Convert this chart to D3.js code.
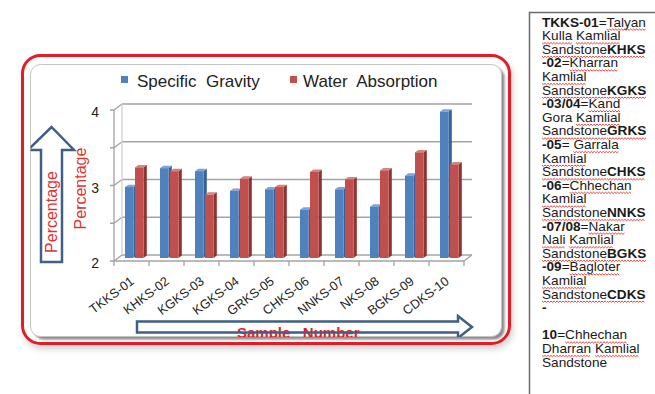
<!DOCTYPE html>
<html>
<head>
<meta charset="utf-8">
<script src="https://cdn.jsdelivr.net/npm/d3@7"></script>
<style>
  html, body { margin: 0; padding: 0; background: #fff; }
  svg { display: block; font-family: "Liberation Sans", Arial, sans-serif; }
  .pre { white-space: pre; }
</style>
</head>
<body>
<svg id="chart" width="655" height="394"></svg>
<script>
// ---- data ----
const samples = ["TKKS-01", "KHKS-02", "KGKS-03", "KGKS-04", "GRKS-05",
                 "CHKS-06", "NNKS-07", "NKS-08", "BGKS-09", "CDKS-10"];
const seriesNames = ["Specific Gravity", "Water Absorption"];
const legendLabels = ["Specific  Gravity", "Water  Absorption"];
const specificGravity = [2.94, 3.19, 3.15, 2.89, 2.91, 2.64, 2.91, 2.68, 3.09, 3.94];
const waterAbsorption = [3.20, 3.15, 2.84, 3.05, 2.94, 3.14, 3.04, 3.16, 3.40, 3.24];
const yTickValues = [2, 3, 4];
const gridValues = [2, 2.5, 3, 3.5, 4];
const yTitle = "Percentage";
const xTitle = "Sample   Number";

// key to sample codes: ^ toggles bold, ~ toggles the spell-check underline
const keyLines = [
  "^TKKS-01^=~Talyan~",
  "~Kulla~ ~Kamlial~",
  "~Sandstone^KHKS^~",
  "^-02^=~Kharran~",
  "~Kamlial~",
  "~Sandstone^KGKS^~",
  "^-03/04^=~Kand~",
  "Gora ~Kamlial~",
  "~Sandstone^GRKS^~",
  "^-05^= ~Garrala~",
  "~Kamlial~",
  "~Sandstone^CHKS^~",
  "^-06^=~Chhechan~",
  "~Kamlial~",
  "~Sandstone^NNKS^~",
  "^-07/08^=~Nakar~",
  "~Nali~ ~Kamlial~",
  "~Sandstone^BGKS^~",
  "^-09^=~Bagloter~",
  "~Kamlial~",
  "~Sandstone^CDKS^~",
  "^-^",
  "",
  "^10^=~Chhechan~",
  "~Dharran~ ~Kamlial~",
  "Sandstone"
];

const seriesValues = [specificGravity, waterAbsorption];
const colors = {
  front: ["#4f81bd", "#c0504d"],
  top:   ["#7ea3d6", "#d8817e"],
  side:  ["#36609a", "#8d3331"]
};

const svg = d3.select("#chart");
const defs = svg.append("defs");

// ---- frame ----
const shadow = defs.append("filter").attr("id", "outerShadow")
  .attr("x", "-10%").attr("y", "-10%").attr("width", "120%").attr("height", "125%");
shadow.append("feDropShadow").attr("dx", 2).attr("dy", 4).attr("stdDeviation", 3)
  .attr("flood-color", "#000").attr("flood-opacity", 0.18);

const blur = defs.append("filter").attr("id", "innerBlur");
blur.append("feGaussianBlur").attr("stdDeviation", 1.2);

const outer = { x: 22.5, y: 55.5, w: 487, h: 288, r: 18 };
const inner = { x: 30.5, y: 64.5, w: 471, h: 272, r: 10 };

svg.append("rect")
  .attr("x", outer.x).attr("y", outer.y).attr("width", outer.w).attr("height", outer.h)
  .attr("rx", outer.r)
  .attr("fill", "#fff").attr("stroke", "#e31f26").attr("stroke-width", 3)
  .attr("filter", "url(#outerShadow)");

svg.append("rect")
  .attr("x", inner.x + 3).attr("y", inner.y + 3).attr("width", inner.w).attr("height", inner.h)
  .attr("rx", inner.r).attr("fill", "#8a8a8a").attr("filter", "url(#innerBlur)");

svg.append("rect")
  .attr("x", inner.x).attr("y", inner.y).attr("width", inner.w).attr("height", inner.h)
  .attr("rx", inner.r).attr("fill", "#fff").attr("stroke", "#c4c4c4").attr("stroke-width", 1);

defs.append("clipPath").attr("id", "innerClip")
  .append("rect")
  .attr("x", inner.x).attr("y", inner.y).attr("width", inner.w).attr("height", inner.h + 0.5)
  .attr("rx", inner.r);

const g = svg.append("g").attr("clip-path", "url(#innerClip)");

// ---- scales ----
const x = d3.scaleBand().domain(samples).range([114, 464]);
const y = d3.scaleLinear().domain([2, 4]).range([261, 110]);
const xSub = d3.scaleBand().domain(seriesNames).range([7, 25.5]).paddingInner(0.15);

const wall = { dx: 8, dy: -6 };     // depth of the back wall
const shift = { dx: 4, dy: -3 };    // bars sit halfway back
const barD = { dx: 3.3, dy: -2.4 }; // thickness of each bar

const [x0, x1] = x.range();
const gridColor = "#a3a3a3";

// side wall edges and back-wall gridlines
const axisG = g.append("g").attr("fill", "none").attr("stroke", gridColor).attr("stroke-width", 1.3);
axisG.selectAll("line.grid").data(gridValues).join("line")
  .attr("x1", x0 + wall.dx).attr("x2", x1 + wall.dx)
  .attr("y1", d => y(d) + wall.dy).attr("y2", d => y(d) + wall.dy);
axisG.selectAll("line.conn").data(gridValues).join("line")
  .attr("x1", x0).attr("x2", x0 + wall.dx)
  .attr("y1", d => y(d)).attr("y2", d => y(d) + wall.dy);
axisG.selectAll("line.tick").data(gridValues).join("line")
  .attr("x1", x0 - 4).attr("x2", x0)
  .attr("y1", d => y(d)).attr("y2", d => y(d));
axisG.append("line")
  .attr("x1", x0).attr("x2", x0).attr("y1", y(4)).attr("y2", y(2));
axisG.append("line").attr("stroke", "#d0d0d0")
  .attr("x1", x0 + wall.dx).attr("x2", x0 + wall.dx).attr("y1", y(4) + wall.dy).attr("y2", y(2) + wall.dy);
// floor front edge and right edge
axisG.append("line")
  .attr("x1", x0).attr("x2", x1).attr("y1", y(2)).attr("y2", y(2));
axisG.append("line")
  .attr("x1", x1).attr("x2", x1 + wall.dx).attr("y1", y(2)).attr("y2", y(2) + wall.dy);
// category ticks
axisG.selectAll("line.xtick").data(d3.range(samples.length + 1)).join("line")
  .attr("x1", i => x0 + i * x.step()).attr("x2", i => x0 + i * x.step())
  .attr("y1", y(2)).attr("y2", y(2) + 5);

// y tick labels
g.append("g").selectAll("text").data(yTickValues).join("text")
  .attr("x", 99).attr("y", d => y(d) + 2)
  .attr("text-anchor", "end").attr("dominant-baseline", "central")
  .attr("font-size", 14).attr("fill", "#222")
  .text(d => d);

// ---- 3-D columns ----
const bars = [];
samples.forEach((s, i) => {
  seriesNames.forEach((n, k) => bars.push({ sample: s, k, v: seriesValues[k][i] }));
});

const barG = g.append("g");
const bar = barG.selectAll("g").data(bars).join("g");
const bx = d => x(d.sample) + xSub(seriesNames[d.k]) + shift.dx;
const bw = xSub.bandwidth();
const bTop = d => y(d.v) + shift.dy;
const bBot = y(2) + shift.dy;

bar.append("polygon")
  .attr("fill", d => colors.side[d.k])
  .attr("points", d => [
    [bx(d) + bw, bTop(d)], [bx(d) + bw + barD.dx, bTop(d) + barD.dy],
    [bx(d) + bw + barD.dx, bBot + barD.dy], [bx(d) + bw, bBot]
  ].join(" "));
bar.append("polygon")
  .attr("fill", d => colors.top[d.k])
  .attr("points", d => [
    [bx(d), bTop(d)], [bx(d) + barD.dx, bTop(d) + barD.dy],
    [bx(d) + bw + barD.dx, bTop(d) + barD.dy], [bx(d) + bw, bTop(d)]
  ].join(" "));
bar.append("rect")
  .attr("x", bx).attr("y", bTop).attr("width", bw).attr("height", d => bBot - bTop(d))
  .attr("fill", d => colors.front[d.k]);

// category labels
g.append("g").selectAll("text").data(samples).join("text")
  .attr("transform", d => `translate(${x(d) + x.bandwidth() / 2 + 3.5},${y(2) + 22}) rotate(-37)`)
  .attr("text-anchor", "end").attr("font-size", 12.8).attr("fill", "#222")
  .text(d => d);

// ---- legend ----
const legendX = [121, 290];
const legend = g.append("g").selectAll("g").data(seriesNames).join("g")
  .attr("transform", (d, k) => `translate(${legendX[k]},76)`);
legend.append("rect").attr("width", 7).attr("height", 7)
  .attr("fill", (d, k) => colors.front[k]);
legend.append("text").attr("class", "pre")
  .attr("x", (d, k) => k === 0 ? 16 : 13).attr("y", 10.5)
  .attr("font-size", 17).attr("fill", "#222")
  .text((d, k) => legendLabels[k]);

// ---- axis title arrows ----
const arrowStroke = "#3f5f86";
g.append("polygon")
  .attr("points", [[41, 262], [41, 150], [28, 150], [51.5, 127], [74, 150], [62, 150], [62, 262]].join(" "))
  .attr("fill", "#fff").attr("stroke", arrowStroke).attr("stroke-width", 2.5)
  .attr("stroke-linejoin", "miter");

g.append("text")
  .attr("transform", "translate(51.5,212) rotate(-90)")
  .attr("text-anchor", "middle").attr("dominant-baseline", "central")
  .attr("font-size", 16).attr("fill", "#e0332f").text(yTitle);
g.append("text")
  .attr("transform", "translate(80,188.5) rotate(-90)")
  .attr("text-anchor", "middle").attr("dominant-baseline", "central")
  .attr("font-size", 16).attr("fill", "#e0332f").text(yTitle);

g.append("text").attr("class", "pre")
  .attr("x", 237).attr("y", 337.5)
  .attr("font-size", 15).attr("font-weight", "bold").attr("fill", "#e31f26")
  .text(xTitle);

g.append("polygon")
  .attr("points", [[137, 321.5], [458, 321.5], [458, 316], [472, 327], [458, 338], [458, 332.5], [137, 332.5]].join(" "))
  .attr("fill", "none").attr("stroke", arrowStroke).attr("stroke-width", 2.5);

// ---- key panel ----
const panel = svg.append("g");
panel.append("path")
  .attr("d", "M655,12.5 H529.5 V394")
  .attr("fill", "none").attr("stroke", "#6b6b6b").attr("stroke-width", 1.5);

function parseLine(str) {
  const segs = [];
  let bold = false, under = false, buf = "";
  const flush = () => { if (buf) segs.push({ text: buf, bold, under }); buf = ""; };
  for (const ch of str) {
    if (ch === "^") { flush(); bold = !bold; }
    else if (ch === "~") { flush(); under = !under; }
    else buf += ch;
  }
  flush();
  return segs;
}

const keyX = 542, keyY0 = 26.5, keyStep = 13.6;
const squiggles = [];
keyLines.forEach((line, i) => {
  const t = panel.append("text").attr("class", "pre")
    .attr("x", keyX).attr("y", keyY0 + i * keyStep)
    .attr("font-size", 13.6).attr("fill", "#1a1a1a");
  parseLine(line).forEach(seg => {
    const ts = t.append("tspan").attr("font-weight", seg.bold ? "bold" : "normal").text(seg.text);
    if (seg.under) {
      const node = ts.node();
      const sx = node.getStartPositionOfChar(0).x;
      squiggles.push({ x: sx, w: node.getComputedTextLength(), y: keyY0 + i * keyStep + 2.5 });
    }
  });
});

panel.append("g").selectAll("path").data(squiggles).join("path")
  .attr("fill", "none").attr("stroke", "#e8302a").attr("stroke-width", 0.9)
  .attr("d", d => {
    const pts = [];
    for (let px = 0, j = 0; px <= d.w; px += 1.5, j++) pts.push([d.x + px, d.y + (j % 2 ? 1.3 : 0)]);
    return d3.line()(pts);
  });
</script>
</body>
</html>
